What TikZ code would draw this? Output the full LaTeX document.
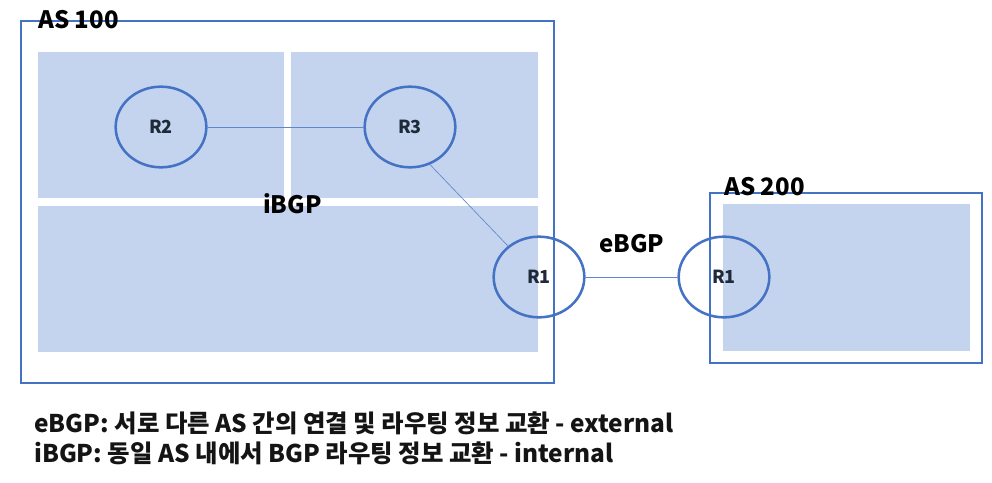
\documentclass[tikz,border=0pt]{standalone}
\usepackage{fontspec}
\setmainfont{Noto Sans CJK KR}
\newfontfamily\kr{Noto Sans CJK KR}
\usetikzlibrary{shapes.geometric}
\definecolor{linkblue}{HTML}{4472C4}
\definecolor{areafill}{HTML}{C5D4EE}
\definecolor{labelnavy}{HTML}{1E2A3A}
\tikzset{
  area/.style={fill=areafill, draw=none},
  asbox/.style={draw=linkblue, line width=0.9pt},
  router/.style={ellipse, draw=linkblue, line width=1.9pt, minimum width=68pt, minimum height=60.5pt, inner sep=0pt, font=\kr\bfseries\fontsize{13.5}{16}\selectfont, text=labelnavy},
  link/.style={draw=linkblue!85, line width=0.5pt},
  title/.style={anchor=base west, inner sep=0pt, font=\kr\bfseries\fontsize{18}{22}\selectfont, text=black},
  note/.style={anchor=base west, inner sep=0pt, font=\kr\bfseries\fontsize{18.3}{22}\selectfont, text=black!92}
}
\begin{document}
\begin{tikzpicture}[x=0.75pt,y=-0.75pt]
\useasboundingbox (0,0) rectangle (992,482);
\fill[white] (0,0) rectangle (992,482);
% AS 100 areas
\path[area] (38,52) rectangle (284,198);
\path[area] (291,52) rectangle (538,198);
\path[area] (38,206) rectangle (538,352);
\draw[asbox] (21,21) rectangle (554,383);
% AS 200 area
\path[area] (723,204) rectangle (970,351);
\draw[asbox] (710,193) rectangle (982,363);
% labels
\node[title] (as100) at (38,28) {AS 100};
\node[title] (as200) at (724,195) {AS 200};
\node[title] (ibgp) at (263,213) {iBGP};
\node[title] (ebgp) at (599,252) {eBGP};
% routers
\node[router] (r2) at (161,127) {R2};
\node[router] (r3) at (410,127) {R3};
\node[router] (r1a) at (539,277) {R1};
\node[router] (r1b) at (724,277) {R1};
% links
\draw[link] (r2.east) -- (r3.west);
\draw[link] (r3.-62) -- (r1a.135);
\draw[link] (r1a.east) -- (r1b.west);
% notes
\node[note] (n1) at (34,432) {eBGP: 서로 다른 AS 간의 연결 및 라우팅 정보 교환 - external};
\node[note] (n2) at (34,462) {iBGP: 동일 AS 내에서 BGP 라우팅 정보 교환 - internal};
\end{tikzpicture}
\end{document}
